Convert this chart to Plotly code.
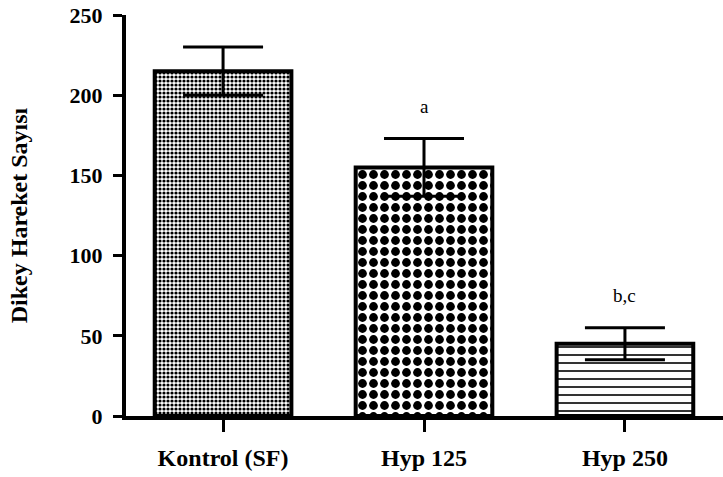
import plotly.graph_objects as go

categories = ["Kontrol (SF)", "Hyp 125", "Hyp 250"]
means = [215, 155, 45]
sems = [15, 18, 10]
sig_labels = ["", "a", "b,c"]
y_ticks = [0, 50, 100, 150, 200, 250]

FONT = "Liberation Serif, Times New Roman, serif"

patterns = [
    dict(shape=".", size=4, solidity=0.5, fgcolor="black", bgcolor="white", fgopacity=1),
    dict(shape=".", size=11, solidity=0.5, fgcolor="black", bgcolor="white", fgopacity=1),
    dict(shape="-", size=8, solidity=0.2, fgcolor="black", bgcolor="white", fgopacity=1),
]

fig = go.Figure()
for i, (c, m, s) in enumerate(zip(categories, means, sems)):
    fig.add_trace(go.Bar(
        x=[c], y=[m],
        width=0.68,
        marker=dict(color="white", line=dict(color="black", width=4), pattern=patterns[i]),
        error_y=dict(type="data", array=[s], visible=True, color="black", thickness=3, width=40),
        showlegend=False, hoverinfo="skip",
    ))
    if sig_labels[i]:
        fig.add_annotation(x=c, y=m + s, text=sig_labels[i], showarrow=False,
                           yanchor="bottom", yshift=20,
                           font=dict(family=FONT, size=19, color="#000000"))

fig.update_layout(
    width=723, height=477,
    margin=dict(l=126, r=0, t=15, b=61),
    plot_bgcolor="white", paper_bgcolor="white",
    barmode="overlay",
    font=dict(family=FONT, color="black"),
)
fig.update_xaxes(
    range=[-0.483, 2.488], automargin=False,
    showline=True, linecolor="black", linewidth=4,
    ticks="outside", ticklen=12, tickwidth=3, tickcolor="black",
    tickfont=dict(family=FONT, size=24, color="black", weight="bold"),
    ticklabelstandoff=5,
    showgrid=False, zeroline=False,
)
fig.update_yaxes(
    range=[0, 250], tickvals=y_ticks, automargin=False,
    showline=True, linecolor="black", linewidth=4,
    ticks="outside", ticklen=9, tickwidth=3, tickcolor="black",
    tickfont=dict(family=FONT, size=22, color="black", weight="bold"),
    ticklabeloverflow="allow", ticklabelstandoff=6,
    showgrid=False, zeroline=False,
    title=dict(text="Dikey Hareket Sayısı", standoff=36,
               font=dict(family=FONT, size=24, color="black", weight="bold")),
)

fig.write_html("out.html", config={"displayModeBar": False},
               post_script="document.body.style.margin='0';")
